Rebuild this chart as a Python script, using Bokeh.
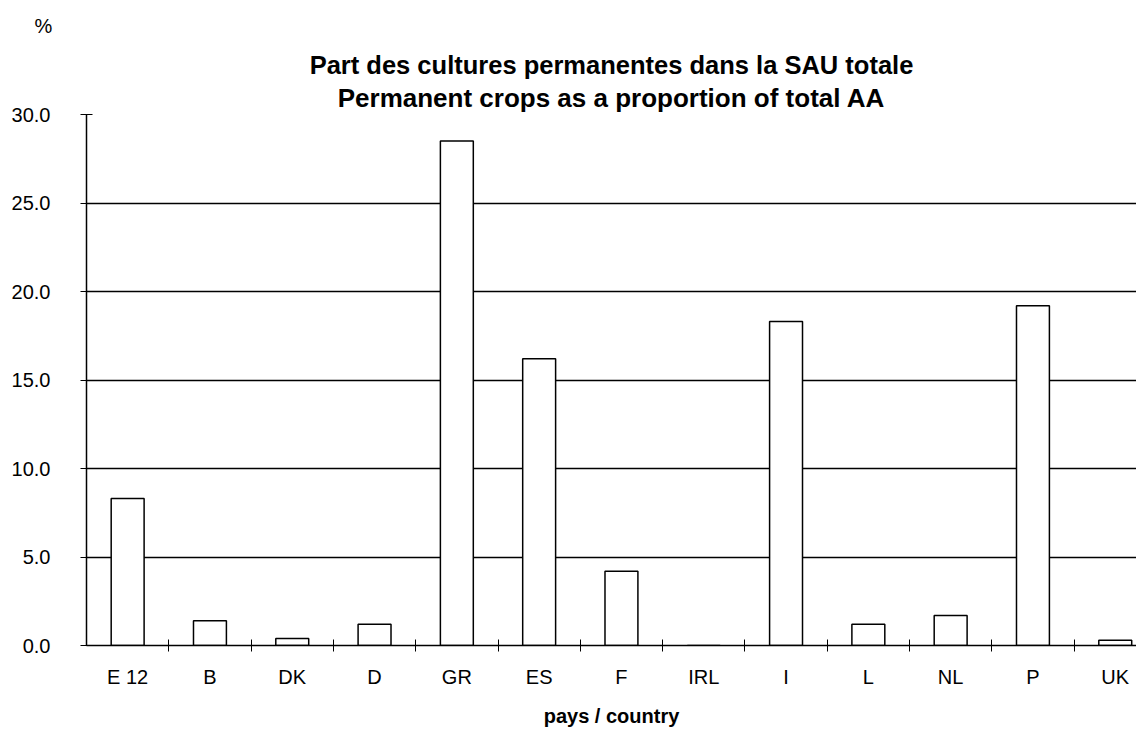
from bokeh.plotting import figure
from bokeh.models import (ColumnDataSource, FixedTicker, NumeralTickFormatter, Range1d, Title)
from bokeh.embed import file_html
from bokeh.resources import INLINE

countries = ["E 12", "B", "DK", "D", "GR", "ES", "F", "IRL", "I", "L", "NL", "P", "UK"]
values = [8.3, 1.4, 0.4, 1.2, 28.5, 16.2, 4.2, 0.0, 18.3, 1.2, 1.7, 19.2, 0.3]
y_ticks = [0, 5, 10, 15, 20, 25, 30]
grid_ticks = [5, 10, 15, 20, 25]

title_1 = "Part des cultures permanentes dans la SAU totale"
title_2 = "Permanent crops as a proportion of total AA"
x_title = "pays / country"
y_title = "%"

FONT = "Liberation Sans"

centers = [i + 0.5 for i in range(len(countries))]
bounds = [float(i) for i in range(1, len(countries))]

src = ColumnDataSource(dict(x=centers, top=values, name=countries))

FRAME_W, FRAME_H = 1050, 531
cat_px = 82.3

p = figure(frame_width=FRAME_W, frame_height=FRAME_H, output_backend="svg",
           toolbar_location=None,
           x_range=Range1d(0, FRAME_W / cat_px), y_range=Range1d(0, 30),
           min_border_left=86, min_border_right=0, min_border_top=114,
           min_border_bottom=0)
p.outline_line_color = None
p.background_fill_color = "white"

p.vbar(x="x", top="top", bottom=0, width=0.4, source=src,
       fill_color="white", line_color="black", line_width=1.5)

# y axis
ya = p.yaxis[0]
ya.ticker = FixedTicker(ticks=y_ticks)
ya.formatter = NumeralTickFormatter(format="0.0")
ya.major_tick_in = 6
ya.major_tick_out = 6
ya.minor_tick_line_color = None
ya.axis_line_color = "black"
ya.axis_line_width = 1.5
ya.major_tick_line_color = "black"
ya.major_label_text_font = FONT
ya.major_label_text_font_size = "20px"
ya.major_label_text_color = "black"
ya.major_label_standoff = 30

# x axis
xa = p.xaxis[0]
xa.ticker = FixedTicker(ticks=centers, minor_ticks=bounds)
xa.major_label_overrides = {c: n for c, n in zip(centers, countries)}
xa.major_tick_line_color = None
xa.major_tick_in = 0
xa.major_tick_out = 0
xa.minor_tick_in = 6
xa.minor_tick_out = 6
xa.minor_tick_line_color = "black"
xa.axis_line_color = "black"
xa.axis_line_width = 1.5
xa.major_label_text_font = FONT
xa.major_label_text_font_size = "20px"
xa.major_label_text_color = "black"
xa.major_label_standoff = 14
xa.axis_label = x_title
xa.axis_label_text_font = FONT
xa.axis_label_text_font_style = "bold"
xa.axis_label_text_font_size = "20px"
xa.axis_label_text_color = "black"
xa.axis_label_standoff = 14

p.xgrid.grid_line_color = None
p.ygrid.ticker = FixedTicker(ticks=grid_ticks)
p.ygrid.grid_line_color = "black"
p.ygrid.grid_line_width = 1.4

# outermost: the "%" unit label at top left
p.title.text = y_title
p.title.align = "left"
p.title.offset = -52
p.title.text_font = FONT
p.title.text_font_size = "20px"
p.title.text_font_style = "normal"
p.title.text_color = "black"
p.title.standoff = 24

# title lines, stacked from the frame outward
p.add_layout(Title(text=title_2, align="center", offset=6, text_font=FONT,
                   text_font_size="26px", text_font_style="bold",
                   text_color="black", standoff=4), "above")
p.add_layout(Title(text=title_1, align="center", offset=2, text_font=FONT,
                   text_font_size="25.5px", text_font_style="bold",
                   text_color="black", standoff=0), "above")

open("out.html", "w").write(file_html(p, INLINE))
